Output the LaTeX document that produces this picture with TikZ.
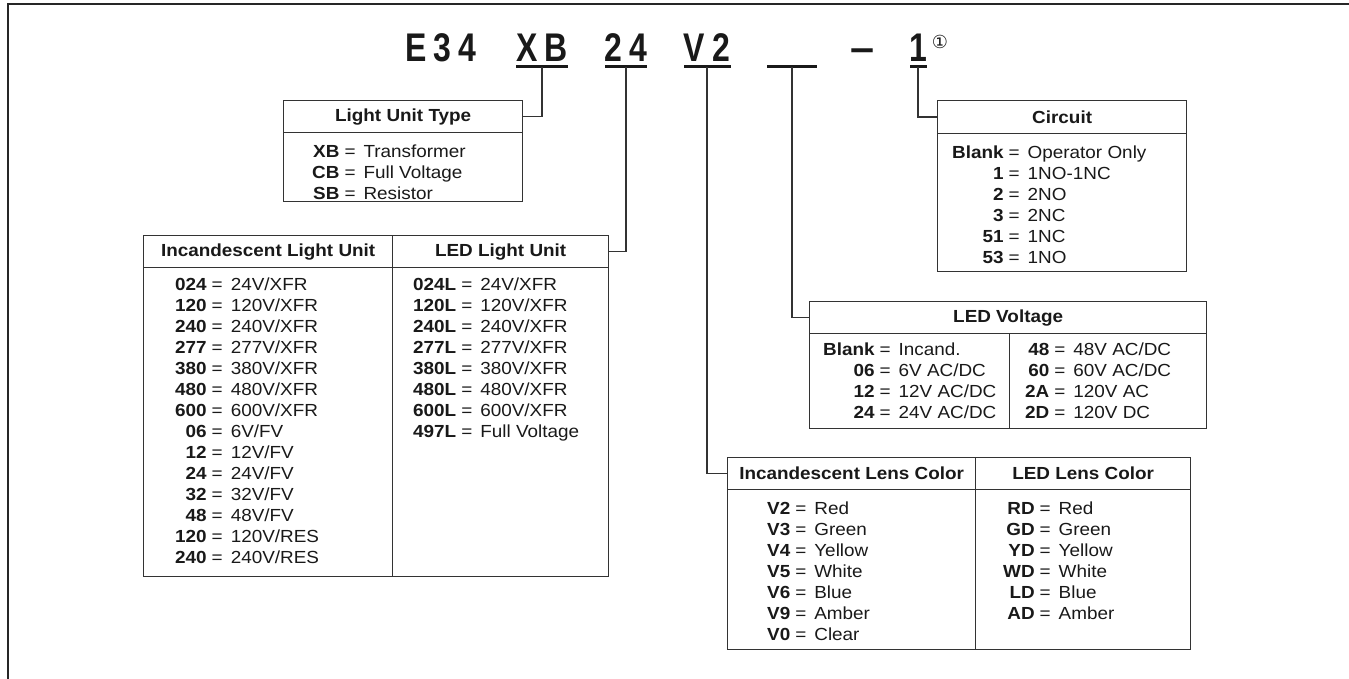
\documentclass[tikz,border=0pt]{standalone}
\usepackage{fontspec}
\setmainfont{Liberation Sans}[FakeStretch=1.08]
\newfontfamily\codefont{Liberation Sans}[FakeStretch=0.8]
\newfontfamily\symfont{DejaVu Sans}
\usepackage{array}
\usetikzlibrary{positioning}

% code = description lists, aligned on the equals sign
\newcommand{\codelist}[1]{\begin{tabular}{@{}>{\bfseries}r@{\hspace{5pt}=\hspace{8pt}}l@{}}#1\end{tabular}}

\begin{document}
\begin{tikzpicture}[
        x=1pt, y=-1pt,
        every node/.style={text=black!90},
        hdr/.style={
            draw=black!80, line width=1.3pt, anchor=north west,
            inner sep=0pt, minimum height=32pt,
            font=\fontsize{17.5}{21}\selectfont\bfseries
        },
        cell/.style={draw=black!80, line width=1.3pt, anchor=north west, inner sep=0pt},
        entries/.style={inner sep=0pt, font=\fontsize{17.5}{21}\selectfont},
        code/.style={font=\codefont\fontsize{40}{40}\selectfont\bfseries, inner sep=0pt, anchor=base},
        bar/.style={fill=black!90, inner sep=0pt, minimum height=3pt},
        conn/.style={draw=black!80, line width=1.3pt}
        ]

    \useasboundingbox (0,0) rectangle (1349,679);
    \draw[line width=2pt, draw=black!85] (8,679) -- (8,4) -- (1349,4);

    % --- catalogue number ---
        \node[code] (e34) at (441,62) {E\kern7pt 3\kern7pt 4};
        \node[code] (xb) at (542,62) {X\kern7pt B};
        \node[code] (v24) at (626,62) {2\kern7pt 4};
        \node[code] (v2) at (707,62) {V\kern7pt 2};
        \node[code, font=\fontsize{40}{40}\selectfont\bfseries] (dash) at (863,62) {–};
        \node[code] (one) at (918,62) {1};
        \node[inner sep=0pt, font=\symfont\fontsize{18}{18}\selectfont] (note) at (940,42) {①};

        \node[bar, minimum width=52pt] (xbbar) at (542,67) {};
        \node[bar, minimum width=42pt] (v24bar) at (626,67) {};
        \node[bar, minimum width=47pt] (v2bar) at (707,67) {};
        \node[bar, minimum width=50pt] (blankbar) at (792,67) {};
        \node[bar, minimum width=17pt] (onebar) at (918,67) {};

    % --- Light Unit Type ---
        \node[hdr, minimum width=239pt] (luthead) at (283,100) {Light Unit Type};
        \node[cell, minimum width=239pt, minimum height=69pt] (lutbody) at (283,132) {};
        \node[entries, below right=9pt and 29pt of luthead.south west] (lutlist)
            {\codelist{XB & Transformer\\ CB & Full Voltage\\ SB & Resistor}};

    % --- Circuit ---
        \node[hdr, minimum width=249pt, minimum height=33pt] (circhead) at (937,100) {Circuit};
        \node[cell, minimum width=249pt, minimum height=138pt] (circbody) at (937,133) {};
        \node[entries, below right=9pt and 15pt of circhead.south west] (circlist)
            {\codelist{Blank & Operator Only\\ 1 & 1NO-1NC\\ 2 & 2NO\\ 3 & 2NC\\ 51 & 1NC\\ 53 & 1NO}};

    % --- Incandescent / LED Light Unit ---
        \node[hdr, minimum width=249pt] (inchead) at (143,235) {Incandescent Light Unit};
        \node[hdr, minimum width=216pt] (ledhead) at (392,235) {LED Light Unit};
        \node[cell, minimum width=249pt, minimum height=309pt] (incbody) at (143,267) {};
        \node[cell, minimum width=216pt, minimum height=309pt] (ledbody) at (392,267) {};
        \node[entries, below right=7pt and 32pt of inchead.south west] (inclist)
            {\codelist{024 & 24V/XFR\\ 120 & 120V/XFR\\ 240 & 240V/XFR\\ 277 & 277V/XFR\\
                380 & 380V/XFR\\ 480 & 480V/XFR\\ 600 & 600V/XFR\\ 06 & 6V/FV\\ 12 & 12V/FV\\
                24 & 24V/FV\\ 32 & 32V/FV\\ 48 & 48V/FV\\ 120 & 120V/RES\\ 240 & 240V/RES}};
        \node[entries, below right=7pt and 21pt of ledhead.south west] (ledlist)
            {\codelist{024L & 24V/XFR\\ 120L & 120V/XFR\\ 240L & 240V/XFR\\ 277L & 277V/XFR\\
                380L & 380V/XFR\\ 480L & 480V/XFR\\ 600L & 600V/XFR\\ 497L & Full Voltage}};

    % --- LED Voltage ---
        \node[hdr, minimum width=397pt] (volthead) at (809,301) {LED Voltage};
        \node[cell, minimum width=200pt, minimum height=95pt] (voltbodya) at (809,333) {};
        \node[cell, minimum width=197pt, minimum height=95pt] (voltbodyb) at (1009,333) {};
        \node[entries, below right=8pt and 14pt of voltbodya.north west] (voltlista)
            {\codelist{Blank & Incand.\\ 06 & 6V AC/DC\\ 12 & 12V AC/DC\\ 24 & 24V AC/DC}};
        \node[entries, below right=8pt and 16pt of voltbodyb.north west] (voltlistb)
            {\codelist{48 & 48V AC/DC\\ 60 & 60V AC/DC\\ 2A & 120V AC\\ 2D & 120V DC}};

    % --- Lens Color ---
        \node[hdr, minimum width=248pt] (incleshead) at (727,457) {Incandescent Lens Color};
        \node[hdr, minimum width=215pt] (ledleshead) at (975,457) {LED Lens Color};
        \node[cell, minimum width=248pt, minimum height=160pt] (inclesbody) at (727,489) {};
        \node[cell, minimum width=215pt, minimum height=160pt] (ledlesbody) at (975,489) {};
        \node[entries, below right=9pt and 40pt of incleshead.south west] (incleslist)
            {\codelist{V2 & Red\\ V3 & Green\\ V4 & Yellow\\ V5 & White\\ V6 & Blue\\ V9 & Amber\\ V0 & Clear}};
        \node[entries, below right=9pt and 28pt of ledleshead.south west] (ledleslist)
            {\codelist{RD & Red\\ GD & Green\\ YD & Yellow\\ WD & White\\ LD & Blue\\ AD & Amber}};

    % --- connectors from the code to its table ---
        \draw[conn] (xbbar.center) |- (luthead.east);
        \draw[conn] (v24bar.center) |- (ledhead.east);
        \draw[conn] (v2bar.center) |- (incleshead.west);
        \draw[conn] (blankbar.center) |- (volthead.west);
        \draw[conn] (onebar.center) |- (circhead.west);

\end{tikzpicture}
\end{document}
